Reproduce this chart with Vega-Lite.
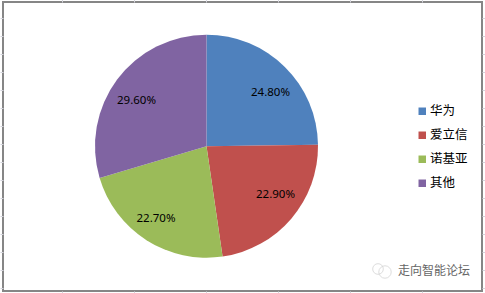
{
"$schema":"https://vega.github.io/schema/vega-lite/v6.json",
"width":479,"height":289,
"padding":{"left":3,"top":2,"right":3,"bottom":2},
"autosize":{"type":"none"},
"background":"white",
"view":{"stroke":"#868686","strokeWidth":2,"fill":"white"},
"resolve":{"axis":{"x":"independent","y":"independent"}},
"datasets":{"share":[
{"name":"华为","share":0.248,"rank":1},
{"name":"爱立信","share":0.229,"rank":2},
{"name":"诺基亚","share":0.227,"rank":3},
{"name":"其他","share":0.296,"rank":4}
]},
"layer":[
{"data":{"name":"share"},
 "mark":{"type":"arc","radius":111.5},
 "encoding":{
  "x":{"datum":206.5,"type":"quantitative","scale":{"domain":[3,482],"nice":false,"zero":false},
    "axis":{"orient":"bottom","title":null,"labels":false,"domain":false,"grid":false,"values":[62,134,206,278,350,422],"tickColor":"#D4D4DC","tickSize":3}},
  "y":{"datum":146.25,"type":"quantitative","scale":{"domain":[291,2],"nice":false,"zero":false},
    "axis":{"orient":"left","title":null,"labels":false,"domain":false,"grid":false,"values":[18,36,54,72,90,108,126,144,162,180,198,216,234,252,270,288],"tickColor":"#D4D4DC","tickSize":3}},
  "theta":{"field":"share","type":"quantitative","stack":true,"scale":{"domain":[0,1]}},
  "order":{"field":"rank","type":"ordinal"},
  "color":{"field":"name","type":"nominal",
    "scale":{"domain":["华为","爱立信","诺基亚","其他"],"range":["#4F81BD","#C0504D","#9BBB59","#8064A2"]},
    "legend":{"title":null,"orient":"none","legendX":413,"legendY":103,"symbolType":"square","symbolSize":56,"symbolStrokeWidth":0,"rowPadding":11,"labelFont":"Noto Sans CJK SC","labelFontSize":12.5,"labelColor":"#000000","labelOffset":1.5,"values":["华为","爱立信","诺基亚","其他"]}}
 }},
{"data":{"name":"share"},
 "transform":[{"filter":"datum.rank == 1"}],
 "mark":{"type":"text","font":"Noto Sans","fontSize":11.5,"color":"#000000"},
 "encoding":{
  "x":{"datum":270.5,"type":"quantitative","axis":{"orient":"top","title":null,"labels":false,"domain":false,"grid":false,"values":[62,134,206,278,350,422],"tickColor":"#D4D4DC","tickSize":3}},
  "y":{"datum":93,"type":"quantitative","axis":{"orient":"right","title":null,"labels":false,"domain":false,"grid":false,"values":[18,36,54,72,90,108,126,144,162,180,198,216,234,252,270,288],"tickColor":"#D4D4DC","tickSize":3}},
  "text":{"field":"share","type":"quantitative","format":".2%"}
 }},
{"data":{"name":"share"},
 "transform":[{"filter":"datum.rank == 2"}],
 "mark":{"type":"text","font":"Noto Sans","fontSize":11.5,"color":"#000000"},
 "encoding":{
  "x":{"datum":275.5,"type":"quantitative","axis":null},
  "y":{"datum":195,"type":"quantitative","axis":null},
  "text":{"field":"share","type":"quantitative","format":".2%"}
 }},
{"data":{"name":"share"},
 "transform":[{"filter":"datum.rank == 3"}],
 "mark":{"type":"text","font":"Noto Sans","fontSize":11.5,"color":"#000000"},
 "encoding":{
  "x":{"datum":156,"type":"quantitative","axis":null},
  "y":{"datum":219,"type":"quantitative","axis":null},
  "text":{"field":"share","type":"quantitative","format":".2%"}
 }},
{"data":{"name":"share"},
 "transform":[{"filter":"datum.rank == 4"}],
 "mark":{"type":"text","font":"Noto Sans","fontSize":11.5,"color":"#000000"},
 "encoding":{
  "x":{"datum":136.5,"type":"quantitative","axis":null},
  "y":{"datum":101,"type":"quantitative","axis":null},
  "text":{"field":"share","type":"quantitative","format":".2%"}
 }},
{"data":{"values":[{"brand":"走向智能论坛"}]},
 "mark":{"type":"text","font":"Noto Sans CJK SC","fontSize":12,"color":"#666666","align":"left","baseline":"middle"},
 "encoding":{
  "x":{"datum":398,"type":"quantitative","axis":null},
  "y":{"datum":271,"type":"quantitative","axis":null},
  "text":{"field":"brand"}
 }},
{"data":{"values":[{"icon":"a"}]},
 "mark":{"type":"point","shape":"circle","size":113,"filled":false,"stroke":"#D0D0D0","strokeWidth":1},
 "encoding":{
  "x":{"datum":378,"type":"quantitative","axis":null},
  "y":{"datum":269,"type":"quantitative","axis":null}
 }},
{"data":{"values":[{"icon":"b"}]},
 "mark":{"type":"point","shape":"circle","size":154,"filled":false,"stroke":"#D0D0D0","strokeWidth":1},
 "encoding":{
  "x":{"datum":385,"type":"quantitative","axis":null},
  "y":{"datum":272,"type":"quantitative","axis":null}
 }}
]
}
